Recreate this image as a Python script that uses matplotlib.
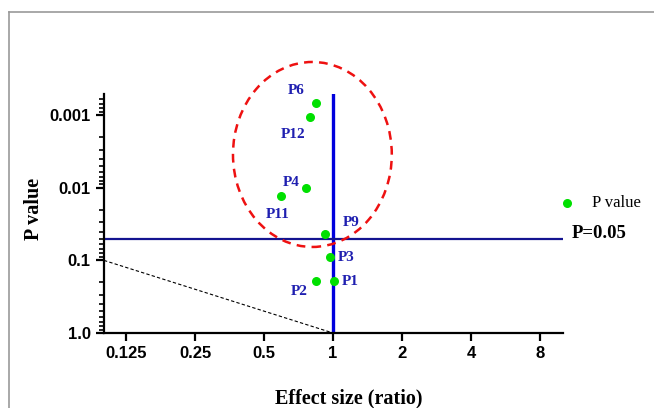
import matplotlib.pyplot as plt
import numpy as np
from matplotlib.patches import Ellipse
from matplotlib.lines import Line2D
from matplotlib.ticker import FixedLocator, FixedFormatter, LogLocator, NullFormatter, NullLocator

# data
labels = ['P1', 'P2', 'P3', 'P4', 'P6', 'P9', 'P11', 'P12']
effect = [1.01, 0.84, 0.97, 0.76, 0.84, 0.92, 0.59, 0.79]
pvals = [0.193, 0.19, 0.090, 0.0100, 0.00068, 0.0433, 0.0129, 0.00107]
# label offsets in pixels from the point
offsets = [(16, 0), (-16, -11), (16, 0), (-14, 5), (-19, 13), (26, 12), (-3, -19), (-16, -17)]

xticks = [0.125, 0.25, 0.5, 1, 2, 4, 8]
xticklabels = ['0.125', '0.25', '0.5', '1', '2', '4', '8']
yticks = [0.001, 0.01, 0.1, 1.0]
yticklabels = ['0.001', '0.01', '0.1', '1.0']
p_cut = 0.05

blue_txt = '#1f1fb0'
serif = 'Liberation Serif'
sans = 'Liberation Sans'

fig = plt.figure(figsize=(6.54, 4.08), dpi=100)
ax = fig.add_axes([104 / 654, 1 - 333 / 408, (563 - 104) / 654, (333 - 94) / 408])

ax.set_xscale('log', base=2)
ax.set_yscale('log')
ax.set_xlim(0.1, 10.1)
ax.set_ylim(1.0, 0.00051)

ax.spines['top'].set_visible(False)
ax.spines['right'].set_visible(False)
for s in ['left', 'bottom']:
    ax.spines[s].set_linewidth(1.6)

ax.xaxis.set_major_locator(FixedLocator(xticks))
ax.xaxis.set_major_formatter(FixedFormatter(xticklabels))
ax.xaxis.set_minor_locator(NullLocator())
ax.yaxis.set_major_locator(FixedLocator(yticks))
ax.yaxis.set_major_formatter(FixedFormatter(yticklabels))
ax.yaxis.set_minor_locator(LogLocator(base=10, subs=np.arange(2, 10)))
ax.yaxis.set_minor_formatter(NullFormatter())
ax.tick_params(axis='both', which='major', length=6, width=1.6, labelsize=12)
ax.tick_params(axis='y', which='minor', length=3.5, width=1.2)
for t in ax.get_xticklabels() + ax.get_yticklabels():
    t.set_fontfamily(sans)
    t.set_fontweight('bold')

# reference lines
ax.axvline(1, color='#0000dd', lw=2.4, zorder=2)
ax.axhline(p_cut, color='#141490', lw=1.6, zorder=2)
ax.plot([0.1, 1], [0.1, 1.0], ls='--', color='black', lw=0.8, dashes=(3, 2))

# points
ax.scatter(effect, pvals, s=30, color='#00e000', zorder=3, label='P value')
for lab, x, y, off in zip(labels, effect, pvals, offsets):
    ax.annotate(lab, (x, y), xytext=off, textcoords='offset pixels',
                ha='center', va='center', color=blue_txt,
                fontfamily=serif, fontweight='bold', fontsize=11)

# highlight ellipse
ell = Ellipse((0.454, 0.747), 0.346, 0.774, transform=ax.transAxes,
              fill=False, edgecolor='#ee1111', lw=1.8, ls=(0, (3.5, 2.5)),
              clip_on=False, zorder=4)
ax.add_patch(ell)

ax.set_xlabel('Effect size (ratio)', fontfamily=serif, fontweight='bold', fontsize=14.5, labelpad=20)
ax.set_ylabel('P value', fontfamily=serif, fontweight='bold', fontsize=14.5, labelpad=4)
ax.xaxis.label.set_x(0.534)
ax.yaxis.label.set_y(0.52)

leg = ax.legend(loc='center left', bbox_to_anchor=(559 / 654, 1 - 203 / 408),
                bbox_transform=fig.transFigure, frameon=False, borderpad=0,
                borderaxespad=0, handletextpad=1.0, handlelength=1.0,
                prop={'family': serif, 'size': 12})

fig.text(572 / 654, 1 - 234 / 408, 'P=0.05', fontfamily=serif, fontweight='bold',
         fontsize=13.5, va='center', ha='left')

# gray frame lines
fig.add_artist(Line2D([9 / 654, 1], [1 - 12 / 408, 1 - 12 / 408], color='#999999', lw=1.2))
fig.add_artist(Line2D([9 / 654, 9 / 654], [0, 1 - 12 / 408], color='#999999', lw=1.2))

fig.savefig('out.png', dpi=100)
